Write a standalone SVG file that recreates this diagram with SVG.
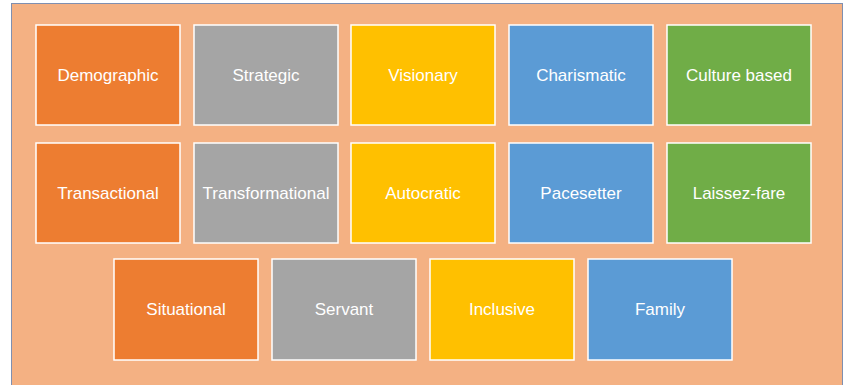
<svg xmlns="http://www.w3.org/2000/svg" width="846" height="385" viewBox="0 0 846 385">
<style>
.box{stroke:#ffffff;stroke-width:1.5}
.o{fill:#ED7D31}.g{fill:#A5A5A5}.y{fill:#FFC000}.b{fill:#5B9BD5}.gr{fill:#70AD47}
text{font-family:"Liberation Sans",Arial,sans-serif;font-size:17px;fill:#FFFFFF;text-anchor:middle}
</style>
<rect x="0" y="0" width="846" height="385" fill="#FFFFFF"/>
<rect x="11.5" y="3.5" width="831" height="390" fill="#F4B183" stroke="#7F8FB0" stroke-width="1"/>
<g id="demographic"><rect class="box o" x="36" y="25" width="144" height="100"/><text x="108" y="81">Demographic</text></g>
<g id="strategic"><rect class="box g" x="194" y="25" width="144" height="100"/><text x="266" y="81">Strategic</text></g>
<g id="visionary"><rect class="box y" x="351" y="25" width="144" height="100"/><text x="423" y="81">Visionary</text></g>
<g id="charismatic"><rect class="box b" x="509" y="25" width="144" height="100"/><text x="581" y="81">Charismatic</text></g>
<g id="culture-based"><rect class="box gr" x="667" y="25" width="144" height="100"/><text x="739" y="81">Culture based</text></g>
<g id="transactional"><rect class="box o" x="36" y="143" width="144" height="100"/><text x="108" y="199">Transactional</text></g>
<g id="transformational"><rect class="box g" x="194" y="143" width="144" height="100"/><text x="266" y="199">Transformational</text></g>
<g id="autocratic"><rect class="box y" x="351" y="143" width="144" height="100"/><text x="423" y="199">Autocratic</text></g>
<g id="pacesetter"><rect class="box b" x="509" y="143" width="144" height="100"/><text x="581" y="199">Pacesetter</text></g>
<g id="laissez-fare"><rect class="box gr" x="667" y="143" width="144" height="100"/><text x="739" y="199">Laissez-fare</text></g>
<g id="situational"><rect class="box o" x="114" y="259" width="144" height="101"/><text x="186" y="315">Situational</text></g>
<g id="servant"><rect class="box g" x="272" y="259" width="144" height="101"/><text x="344" y="315">Servant</text></g>
<g id="inclusive"><rect class="box y" x="430" y="259" width="144" height="101"/><text x="502" y="315">Inclusive</text></g>
<g id="family"><rect class="box b" x="588" y="259" width="144" height="101"/><text x="660" y="315">Family</text></g>
<g id="connectors"></g>
</svg>
